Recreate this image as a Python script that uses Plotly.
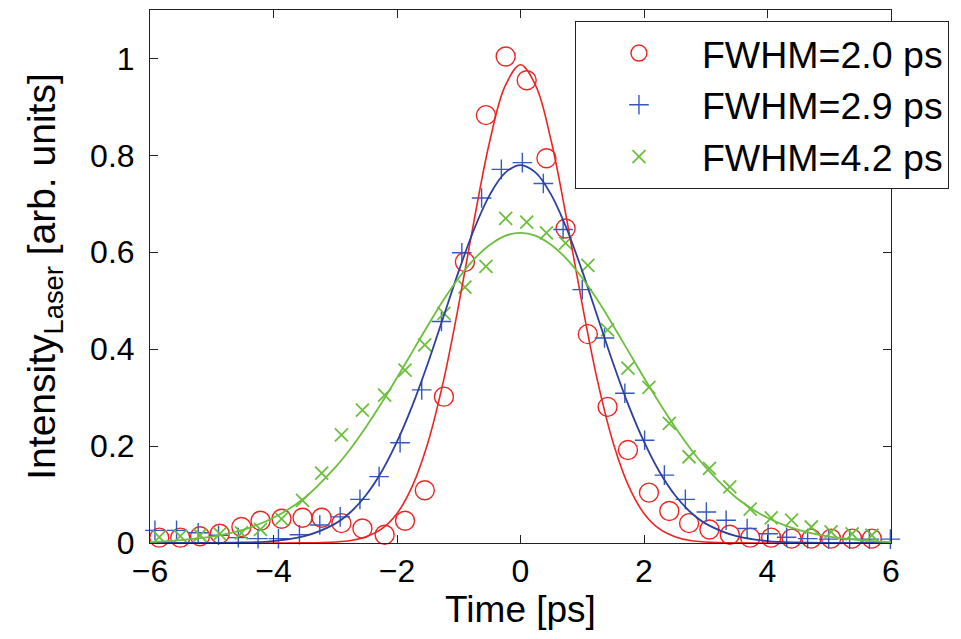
import plotly.graph_objects as go

red_t = [-5.85, -5.51, -5.19, -4.87, -4.52, -4.21, -3.87, -3.53, -3.22, -2.90, -2.56, -2.20,
         -1.87, -1.55, -1.24, -0.90, -0.56, -0.24, 0.10, 0.42, 0.73, 1.09, 1.41, 1.74,
         2.08, 2.41, 2.73, 3.06, 3.39, 3.72, 4.06, 4.39, 4.71, 5.03, 5.37, 5.69]
red_y = [0.011, 0.011, 0.014, 0.019, 0.033, 0.046, 0.050, 0.052, 0.052, 0.041, 0.030, 0.017,
         0.046, 0.109, 0.302, 0.580, 0.883, 1.004, 0.955, 0.794, 0.649, 0.431, 0.281, 0.192,
         0.104, 0.066, 0.041, 0.028, 0.017, 0.011, 0.011, 0.009, 0.009, 0.009, 0.009, 0.009]

blue_t = [-5.92, -5.57, -5.22, -4.89, -4.57, -4.25, -3.92, -3.58, -3.25, -2.92, -2.60, -2.29,
          -1.95, -1.60, -1.28, -0.95, -0.63, -0.31, 0.03, 0.37, 0.69, 1.00, 1.36, 1.69,
          2.01, 2.33, 2.67, 3.01, 3.33, 3.67, 4.01, 4.31, 4.65, 4.99, 5.33, 5.65, 5.99]
blue_y = [0.026, 0.026, 0.021, 0.016, 0.011, 0.009, 0.009, 0.017, 0.037, 0.054, 0.090, 0.137,
          0.207, 0.316, 0.457, 0.599, 0.712, 0.771, 0.785, 0.742, 0.647, 0.523, 0.423, 0.309,
          0.212, 0.140, 0.090, 0.064, 0.047, 0.030, 0.019, 0.012, 0.009, 0.008, 0.008, 0.008, 0.008]

green_t = red_t
green_y = [0.012, 0.014, 0.016, 0.019, 0.021, 0.028, 0.050, 0.088, 0.144, 0.223, 0.274, 0.305,
           0.357, 0.409, 0.474, 0.528, 0.571, 0.670, 0.662, 0.640, 0.619, 0.573, 0.440, 0.361,
           0.321, 0.247, 0.178, 0.154, 0.116, 0.070, 0.052, 0.047, 0.033, 0.023, 0.019, 0.016]

# ---- fitted curves ----
fit_t = [-6, -5.5, -5, -4.5, -4, -3.5, -3, -2.75, -2.5, -2.25, -2, -1.75, -1.5, -1.25, -1,
         -0.75, -0.5, -0.25, 0, 0.25, 0.5, 0.75, 1, 1.25, 1.5, 1.75, 2, 2.25, 2.5, 2.75, 3,
         3.5, 4, 4.5, 5, 5.5, 6]
red_fit = [0.0, 0.0, 0.0, 0.0, 0.0, 0.0002, 0.002, 0.005, 0.013, 0.029, 0.061, 0.118, 0.207,
           0.333, 0.492, 0.667, 0.828, 0.943, 0.987, 0.943, 0.828, 0.667, 0.492, 0.333, 0.207,
           0.118, 0.061, 0.029, 0.013, 0.005, 0.002, 0.0002, 0.0, 0.0, 0.0, 0.0, 0.0]
blue_fit = [0.0, 0.0, 0.0003, 0.001, 0.004, 0.014, 0.040, 0.064, 0.099, 0.147, 0.209, 0.284,
            0.371, 0.466, 0.561, 0.648, 0.718, 0.764, 0.780, 0.764, 0.718, 0.648, 0.561, 0.466,
            0.371, 0.284, 0.209, 0.147, 0.099, 0.064, 0.040, 0.014, 0.004, 0.001, 0.0003, 0.0, 0.0]
green_fit = [0.002, 0.006, 0.013, 0.027, 0.052, 0.093, 0.156, 0.195, 0.240, 0.289, 0.341, 0.395,
             0.449, 0.501, 0.547, 0.586, 0.615, 0.634, 0.640, 0.634, 0.615, 0.586, 0.547, 0.501,
             0.449, 0.395, 0.341, 0.289, 0.240, 0.195, 0.156, 0.093, 0.052, 0.027, 0.013, 0.006, 0.002]

labels = ["FWHM=2.0 ps", "FWHM=2.9 ps", "FWHM=4.2 ps"]
x_ticks = [-6, -4, -2, 0, 2, 4, 6]
y_ticks = [0, 0.2, 0.4, 0.6, 0.8, 1]

RED = "#ee2424"
BLUE_M = "#3558c0"
BLUE_L = "#2c40a0"
GREEN = "#6cbf3c"
FONT = "Liberation Sans, Arial, sans-serif"

fig = go.Figure()
fig.add_trace(go.Scatter(x=red_t, y=red_y, mode="markers", name=labels[0], cliponaxis=False,
                         marker=dict(symbol="circle-open", size=19, color=RED,
                                     line=dict(width=1.4, color=RED))))
fig.add_trace(go.Scatter(x=blue_t, y=blue_y, mode="markers", name=labels[1], cliponaxis=False,
                         marker=dict(symbol="cross-thin-open", size=14, color=BLUE_M,
                                     line=dict(width=1.4, color=BLUE_M))))
fig.add_trace(go.Scatter(x=green_t, y=green_y, mode="markers", name=labels[2], cliponaxis=False,
                         marker=dict(symbol="x-thin-open", size=13, color=GREEN,
                                     line=dict(width=1.8, color=GREEN))))
fig.add_trace(go.Scatter(x=fit_t, y=red_fit, mode="lines", showlegend=False,
                         line=dict(color=RED, width=1.6, shape="spline")))
fig.add_trace(go.Scatter(x=fit_t, y=blue_fit, mode="lines", showlegend=False,
                         line=dict(color=BLUE_L, width=1.8, shape="spline")))
fig.add_trace(go.Scatter(x=fit_t, y=green_fit, mode="lines", showlegend=False,
                         line=dict(color=GREEN, width=1.8, shape="spline")))

axis_common = dict(showline=True, linecolor="#222222", linewidth=1, mirror="ticks",
                   ticks="inside", ticklen=8, tickwidth=1, tickcolor="#222222",
                   showgrid=False, zeroline=False,
                   tickfont=dict(family=FONT, size=32, color="black"))

# page body adds an 8px offset, so the figure is sized to fit the 961x639 window
fig.update_layout(
    width=953, height=631,
    margin=dict(l=142, r=70, t=2, b=96),
    paper_bgcolor="white", plot_bgcolor="white",
    font=dict(family=FONT, color="black"),
    xaxis=dict(range=[-6, 6], tickvals=x_ticks, **axis_common,
               title=dict(text="Time [ps]", font=dict(family=FONT, size=37), standoff=0)),
    yaxis=dict(range=[0, 1.1], tickvals=y_ticks, ticklabelstandoff=8, **axis_common,
               title=dict(text="Intensity<sub>Laser</sub> [arb. units]",
                          font=dict(family=FONT, size=39), standoff=22)),
    legend=dict(x=0.5735, y=0.979, xanchor="left", yanchor="top",
                bgcolor="white", bordercolor="#222222", borderwidth=1,
                font=dict(family=FONT, size=37.5, color="black"),
                itemwidth=116, tracegroupgap=0),
    showlegend=True,
)

fig.write_html("out.html")
